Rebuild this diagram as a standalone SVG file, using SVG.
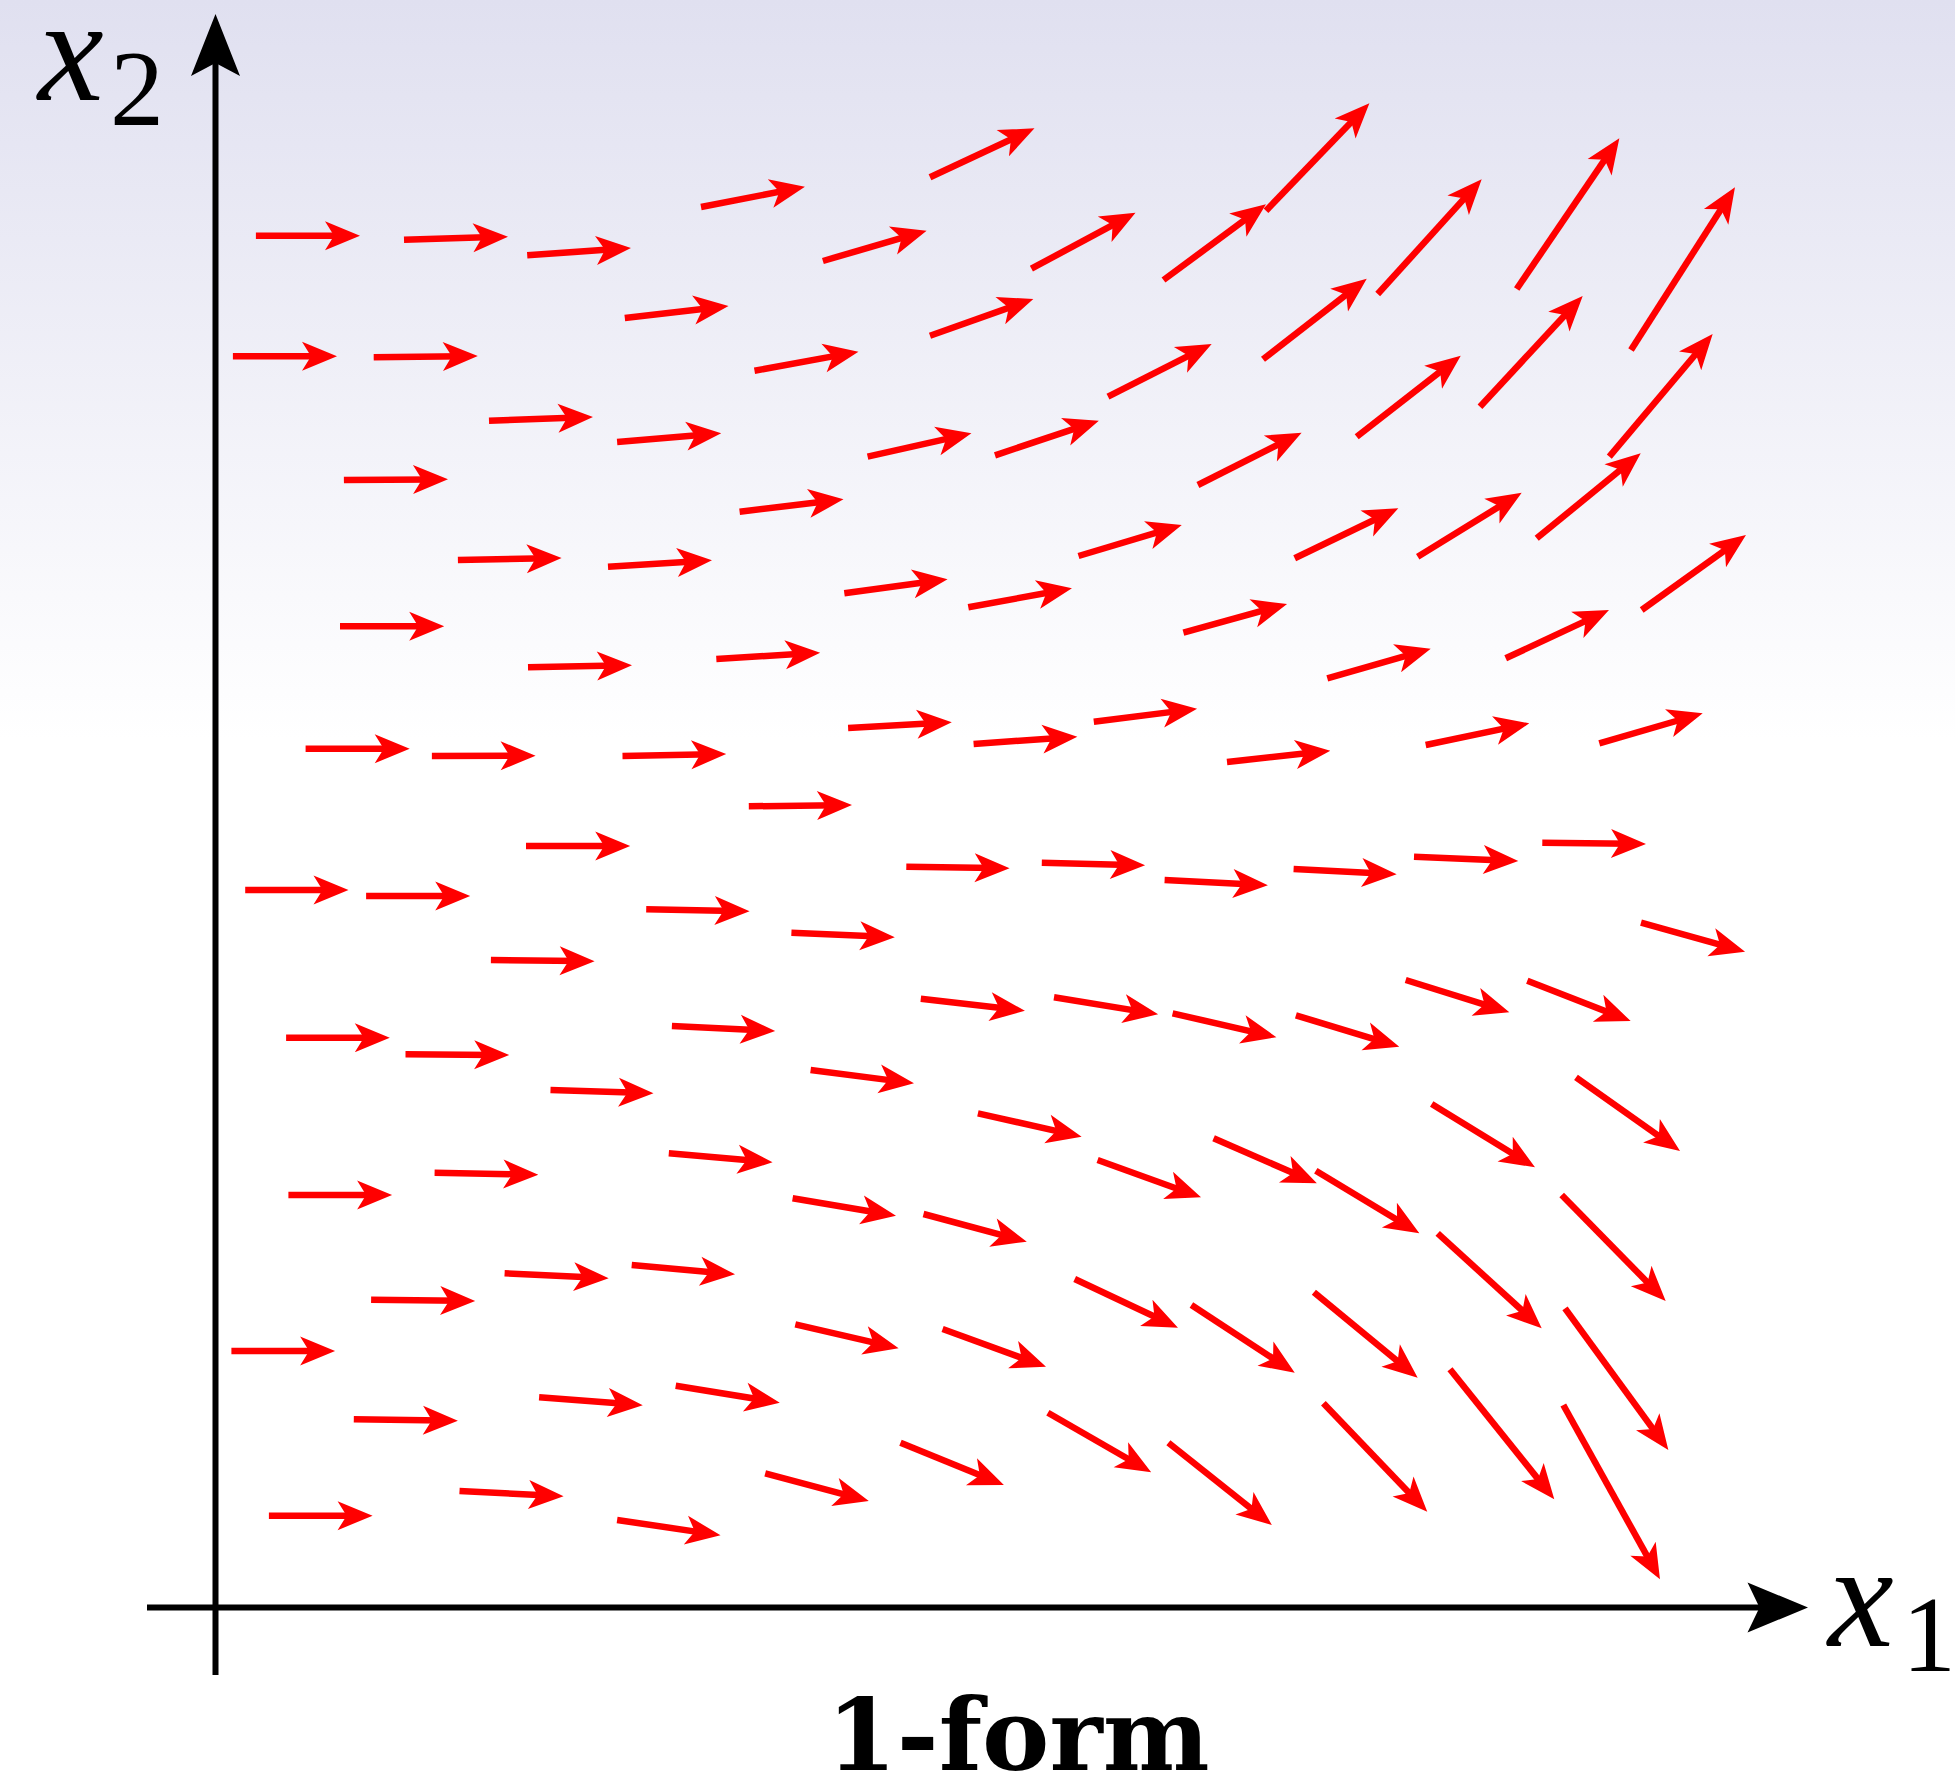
<svg xmlns="http://www.w3.org/2000/svg" width="1955" height="1782" viewBox="0 0 1955 1782">
<defs>
<linearGradient id="bg" gradientUnits="userSpaceOnUse" x1="0" y1="0" x2="0" y2="740">
<stop offset="0" stop-color="#e0e0f0"/>
<stop offset="1" stop-color="#ffffff"/>
</linearGradient>
<marker id="h" markerUnits="userSpaceOnUse" orient="auto" refX="0" refY="0" markerWidth="60" markerHeight="40" overflow="visible">
<path d="M15,0 L-20,14.5 L-11,0 L-20,-14.5 Z" fill="#ff0000"/>
</marker>
</defs>
<style>
.v{stroke:#ff0000;stroke-width:6.5;fill:none;marker-end:url(#h)}
.ax{stroke:#000;stroke-width:6;fill:none}
.lab{font-family:"Liberation Serif","Times New Roman",serif;fill:#000}
</style>
<rect id="background" x="0" y="0" width="1955" height="1782" fill="url(#bg)"/>
<g id="axes">
<line class="ax" x1="215.5" y1="1675" x2="215.5" y2="60"/>
<path d="M215.5,14 L240,76 L215.5,63 L191,76 Z" fill="#000"/>
<line class="ax" x1="147" y1="1607.5" x2="1762" y2="1607.5"/>
<path d="M1808,1607.5 L1747.5,1632.5 L1759.5,1607.5 L1747.5,1582.5 Z" fill="#000"/>
</g>
<g id="labels">
<text class="lab" x="38" y="100" font-size="148" font-style="italic">x</text>
<text class="lab" x="110" y="125" font-size="108">2</text>
<text class="lab" x="1828" y="1646" font-size="148" font-style="italic">x</text>
<text class="lab" x="1902" y="1671" font-size="108">1</text>
<text id="title" x="1018" y="1770" font-family="'DejaVu Serif',serif" font-weight="bold" font-size="100" text-anchor="middle" textLength="383" lengthAdjust="spacingAndGlyphs">1-form</text>
</g>
<g id="arrows">
<line class="v" x1="255.9" y1="235.7" x2="345" y2="235.7"/>
<line class="v" x1="404" y1="239.7" x2="493" y2="237.1"/>
<line class="v" x1="527.2" y1="255.3" x2="616" y2="249.1"/>
<line class="v" x1="701" y1="207" x2="790.2" y2="189.6"/>
<line class="v" x1="624.8" y1="318" x2="713.6" y2="307.7"/>
<line class="v" x1="232.9" y1="356.3" x2="322" y2="356.3"/>
<line class="v" x1="373.7" y1="357.3" x2="462.8" y2="356.2"/>
<line class="v" x1="754.5" y1="370.7" x2="843.7" y2="354.4"/>
<line class="v" x1="489" y1="420.7" x2="578" y2="417.5"/>
<line class="v" x1="617.1" y1="442" x2="706.3" y2="434.5"/>
<line class="v" x1="343.9" y1="480" x2="433" y2="479.4"/>
<line class="v" x1="739.6" y1="511.7" x2="828.6" y2="501.1"/>
<line class="v" x1="457.9" y1="560" x2="546.6" y2="558.3"/>
<line class="v" x1="608" y1="566.7" x2="697" y2="561.2"/>
<line class="v" x1="930" y1="177.3" x2="1020.9" y2="134.7"/>
<line class="v" x1="822.9" y1="261" x2="912.2" y2="234.9"/>
<line class="v" x1="1031.4" y1="268.7" x2="1122.3" y2="219.8"/>
<line class="v" x1="1163.5" y1="280" x2="1253.9" y2="213.2"/>
<line class="v" x1="1266" y1="210.7" x2="1359" y2="114.1"/>
<line class="v" x1="930" y1="335.7" x2="1019.2" y2="304"/>
<line class="v" x1="1263" y1="359.3" x2="1354.9" y2="287.9"/>
<line class="v" x1="1108" y1="396.7" x2="1198.3" y2="350.8"/>
<line class="v" x1="867.6" y1="456.7" x2="956.8" y2="436.6"/>
<line class="v" x1="995" y1="455.3" x2="1084.6" y2="425.4"/>
<line class="v" x1="1197.9" y1="485" x2="1288.2" y2="439.5"/>
<line class="v" x1="1356.7" y1="436.7" x2="1448.9" y2="364.9"/>
<line class="v" x1="844.3" y1="593.3" x2="932.7" y2="581.3"/>
<line class="v" x1="968.3" y1="607.3" x2="1057.2" y2="591"/>
<line class="v" x1="1078.5" y1="556" x2="1167.4" y2="529.3"/>
<line class="v" x1="1294.7" y1="558.3" x2="1384.8" y2="514.8"/>
<line class="v" x1="1377.7" y1="294" x2="1471.6" y2="190.4"/>
<line class="v" x1="1516.7" y1="289" x2="1610.9" y2="150.7"/>
<line class="v" x1="1631" y1="350" x2="1726.9" y2="200"/>
<line class="v" x1="1480" y1="406.7" x2="1572.5" y2="307"/>
<line class="v" x1="1609.3" y1="456.7" x2="1703" y2="345.5"/>
<line class="v" x1="1417.7" y1="556.7" x2="1508.9" y2="500.6"/>
<line class="v" x1="1536.7" y1="538.3" x2="1629.1" y2="462.8"/>
<line class="v" x1="1641.7" y1="610" x2="1733.8" y2="543.8"/>
<line class="v" x1="340" y1="626.3" x2="429.2" y2="626.3"/>
<line class="v" x1="528" y1="667.3" x2="617" y2="665.6"/>
<line class="v" x1="716.3" y1="659" x2="805.2" y2="653.6"/>
<line class="v" x1="305.6" y1="748.7" x2="394.7" y2="748.7"/>
<line class="v" x1="431.9" y1="756" x2="520.6" y2="755.7"/>
<line class="v" x1="622.5" y1="756" x2="711.2" y2="754.3"/>
<line class="v" x1="748.8" y1="806.3" x2="837" y2="805.2"/>
<line class="v" x1="526" y1="846" x2="615.2" y2="846"/>
<line class="v" x1="245.2" y1="890" x2="333.5" y2="890"/>
<line class="v" x1="366.1" y1="896" x2="455.2" y2="896"/>
<line class="v" x1="646.2" y1="909.3" x2="734.6" y2="911"/>
<line class="v" x1="791.4" y1="932.7" x2="879.8" y2="936.6"/>
<line class="v" x1="490.9" y1="960" x2="579.6" y2="961.1"/>
<line class="v" x1="286.1" y1="1037.7" x2="374.8" y2="1037.7"/>
<line class="v" x1="405.5" y1="1054.3" x2="494.2" y2="1054.9"/>
<line class="v" x1="671.9" y1="1026" x2="760.2" y2="1030.3"/>
<line class="v" x1="550.5" y1="1090" x2="638.5" y2="1092.8"/>
<line class="v" x1="1183.4" y1="632.7" x2="1272.6" y2="608"/>
<line class="v" x1="1327.3" y1="678.3" x2="1416.3" y2="652.8"/>
<line class="v" x1="848.1" y1="728" x2="936.8" y2="723.1"/>
<line class="v" x1="973.6" y1="744" x2="1062.4" y2="737.7"/>
<line class="v" x1="1093.8" y1="721.7" x2="1182.2" y2="710.6"/>
<line class="v" x1="1227" y1="762" x2="1315.4" y2="752.3"/>
<line class="v" x1="906.3" y1="866.7" x2="994.6" y2="868.1"/>
<line class="v" x1="1041.8" y1="862.7" x2="1130.1" y2="864.9"/>
<line class="v" x1="1164.6" y1="880" x2="1252.9" y2="884.5"/>
<line class="v" x1="1293.6" y1="869" x2="1381.7" y2="873.5"/>
<line class="v" x1="920.8" y1="998.7" x2="1010" y2="1009"/>
<line class="v" x1="1054" y1="997.3" x2="1143.3" y2="1011.9"/>
<line class="v" x1="1172.6" y1="1013.3" x2="1261.8" y2="1033.9"/>
<line class="v" x1="1295.9" y1="1015.3" x2="1384.9" y2="1042.3"/>
<line class="v" x1="810.6" y1="1070" x2="899.1" y2="1081.4"/>
<line class="v" x1="1505.7" y1="658.3" x2="1595.4" y2="616.4"/>
<line class="v" x1="1425.7" y1="745" x2="1514.6" y2="726.4"/>
<line class="v" x1="1599.3" y1="743.3" x2="1688.3" y2="717.5"/>
<line class="v" x1="1414" y1="856.7" x2="1503.3" y2="860.4"/>
<line class="v" x1="1542.3" y1="842.7" x2="1631" y2="843.8"/>
<line class="v" x1="1641" y1="922.7" x2="1730.6" y2="947.7"/>
<line class="v" x1="1405.7" y1="980" x2="1495" y2="1007.8"/>
<line class="v" x1="1527.3" y1="980.7" x2="1616.7" y2="1015.6"/>
<line class="v" x1="1576" y1="1077.3" x2="1667.8" y2="1142.3"/>
<line class="v" x1="1431.7" y1="1104" x2="1522.2" y2="1159.5"/>
<line class="v" x1="1561.7" y1="1195" x2="1655.2" y2="1290.3"/>
<line class="v" x1="1437.7" y1="1233.3" x2="1530.6" y2="1318.2"/>
<line class="v" x1="1565" y1="1308.3" x2="1659.5" y2="1437.9"/>
<line class="v" x1="1450" y1="1369.3" x2="1544.9" y2="1487.6"/>
<line class="v" x1="1563.3" y1="1405" x2="1652.7" y2="1566.2"/>
<line class="v" x1="668.8" y1="1153.3" x2="757.6" y2="1161"/>
<line class="v" x1="434.6" y1="1172.7" x2="523.3" y2="1174.4"/>
<line class="v" x1="288.4" y1="1195" x2="377.1" y2="1195"/>
<line class="v" x1="631.7" y1="1265" x2="720.1" y2="1273"/>
<line class="v" x1="504.6" y1="1273.3" x2="593.7" y2="1277.6"/>
<line class="v" x1="371.1" y1="1299.7" x2="460.2" y2="1300.8"/>
<line class="v" x1="231.4" y1="1351" x2="320.1" y2="1351"/>
<line class="v" x1="539.1" y1="1397.3" x2="627.8" y2="1404.1"/>
<line class="v" x1="675.7" y1="1385.7" x2="765" y2="1400.3"/>
<line class="v" x1="353.8" y1="1419.3" x2="442.9" y2="1420.5"/>
<line class="v" x1="459.5" y1="1491" x2="548.6" y2="1495.5"/>
<line class="v" x1="268.9" y1="1515.7" x2="357.6" y2="1515.7"/>
<line class="v" x1="617.1" y1="1520" x2="705.7" y2="1533.1"/>
<line class="v" x1="977.9" y1="1113.3" x2="1067" y2="1133.4"/>
<line class="v" x1="1213.6" y1="1138.3" x2="1303.1" y2="1177.3"/>
<line class="v" x1="1097.6" y1="1160" x2="1186.9" y2="1192.2"/>
<line class="v" x1="1315.8" y1="1170.7" x2="1406.5" y2="1225.5"/>
<line class="v" x1="792.6" y1="1198.3" x2="881.2" y2="1213.2"/>
<line class="v" x1="923.5" y1="1214" x2="1012.3" y2="1237.8"/>
<line class="v" x1="1074.7" y1="1279" x2="1164.4" y2="1321.3"/>
<line class="v" x1="1191.4" y1="1305" x2="1282.2" y2="1364.5"/>
<line class="v" x1="1313.9" y1="1292.3" x2="1406.1" y2="1368.2"/>
<line class="v" x1="795.3" y1="1324.3" x2="884" y2="1344.9"/>
<line class="v" x1="942.6" y1="1329" x2="1031.9" y2="1361.6"/>
<line class="v" x1="1047.9" y1="1412.7" x2="1138.2" y2="1464.8"/>
<line class="v" x1="1168.4" y1="1442.7" x2="1260.1" y2="1515.7"/>
<line class="v" x1="1323.4" y1="1403.3" x2="1416.9" y2="1500.9"/>
<line class="v" x1="900.5" y1="1442.7" x2="990" y2="1479.3"/>
<line class="v" x1="765.2" y1="1473.3" x2="854.3" y2="1497.1"/>
</g>
</svg>
